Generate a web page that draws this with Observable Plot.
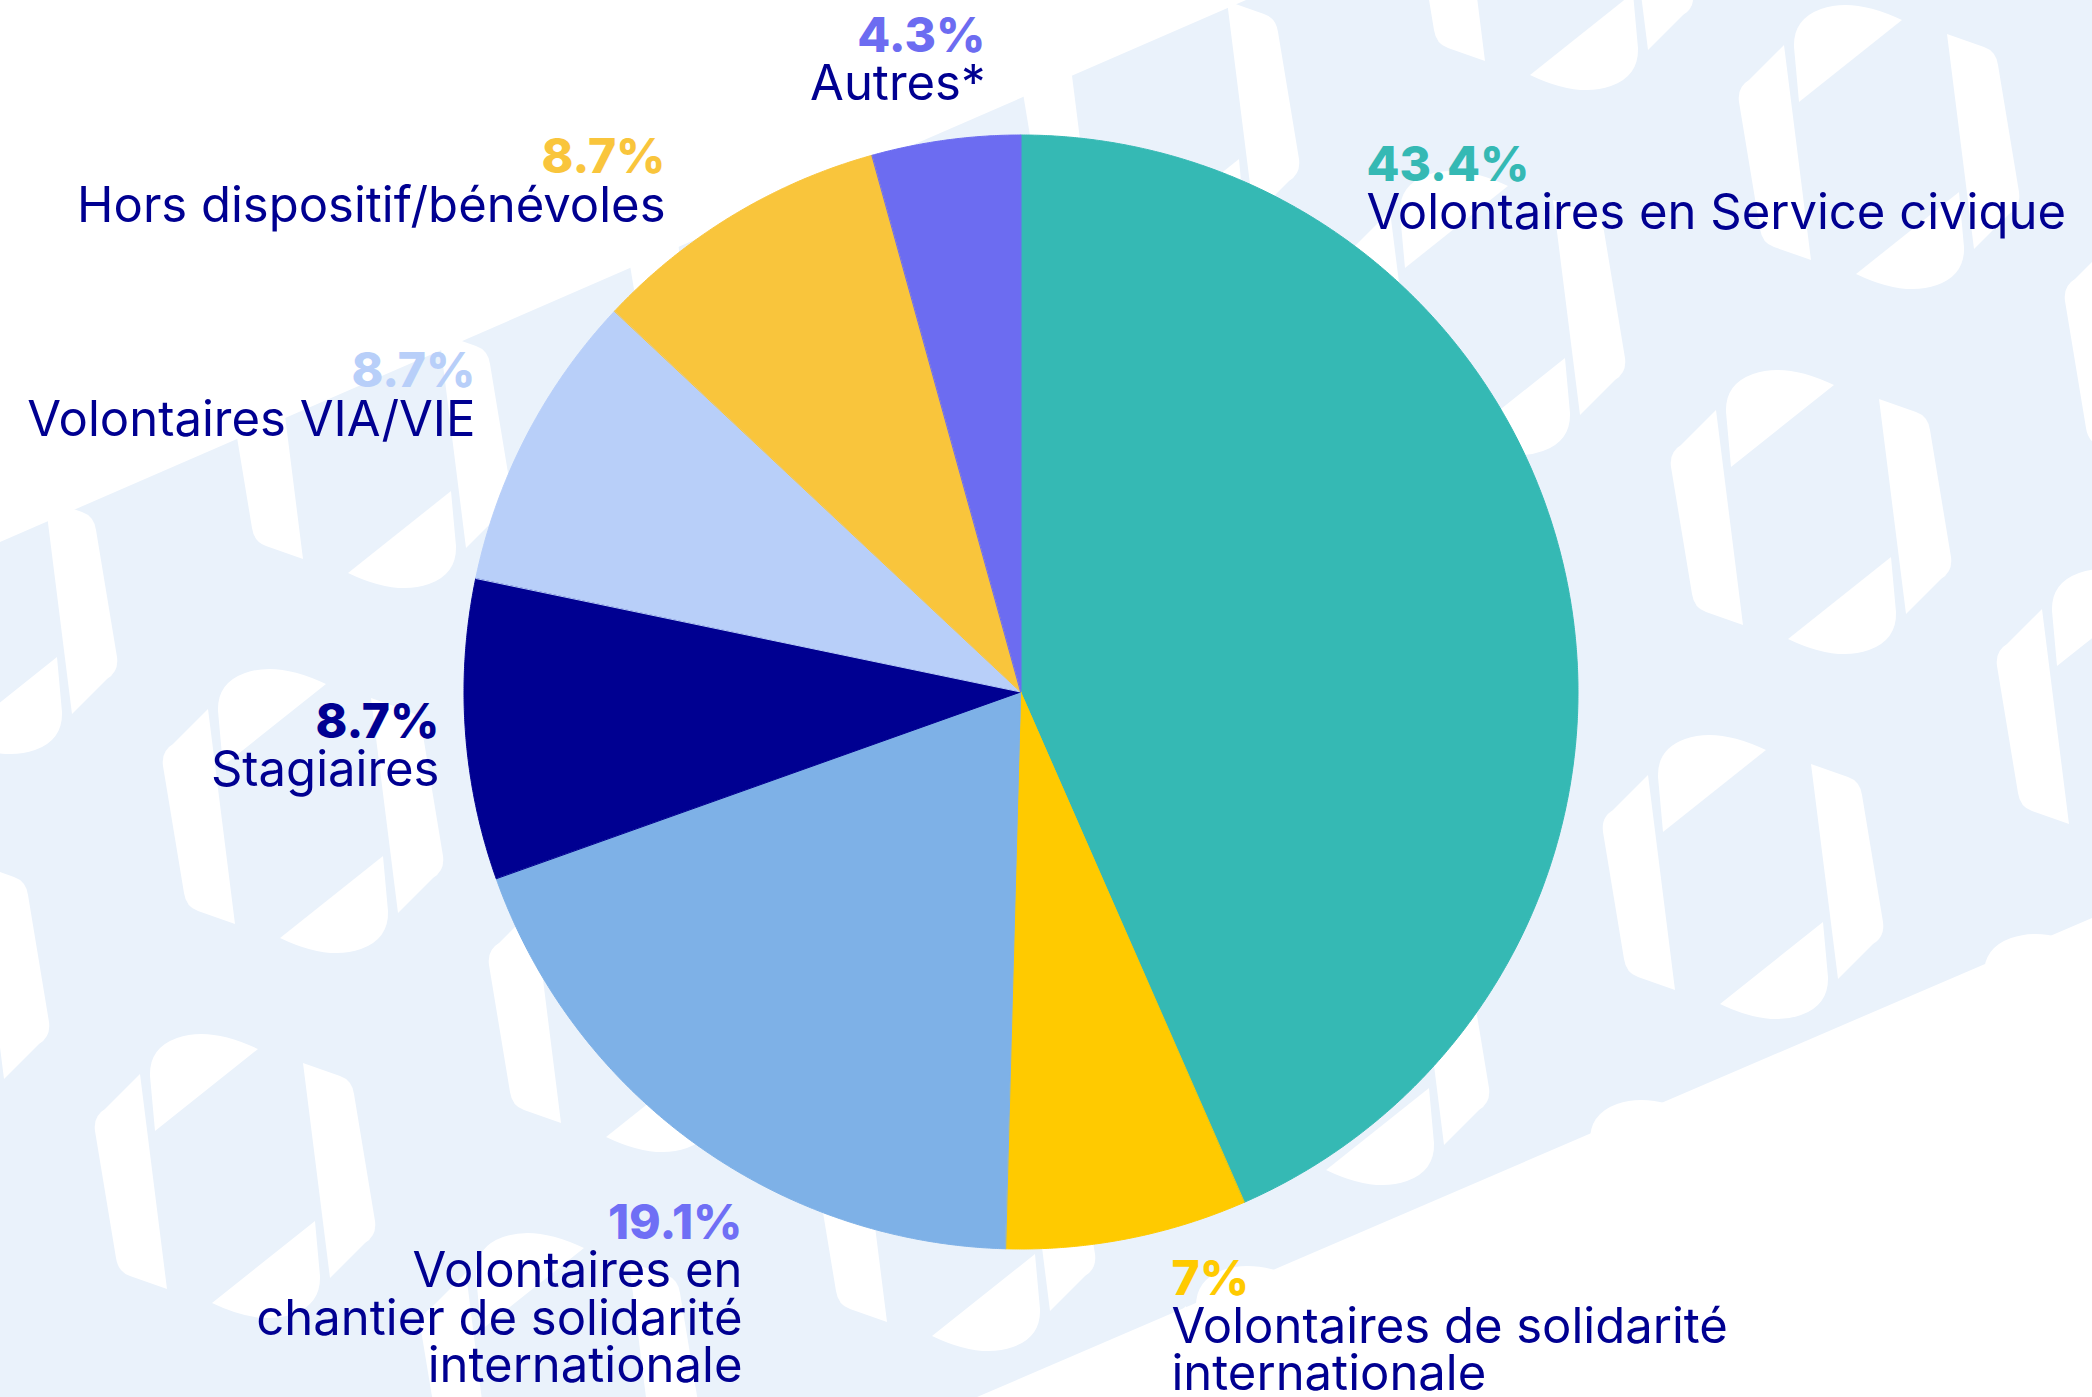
<!DOCTYPE html>
<html>
<head>
<meta charset="utf-8">
<script src="https://cdn.jsdelivr.net/npm/d3@7"></script>
<script src="https://cdn.jsdelivr.net/npm/@observablehq/plot@0.6"></script>
<style>
  html, body { margin: 0; padding: 0; background: #ffffff; }
  #wrap { position: relative; width: 2092px; height: 1397px; overflow: hidden; }
  #bg { position: absolute; left: 0; top: 0; }
  #chart { position: absolute; left: 0; top: 0; }
</style>
</head>
<body>
<div id="wrap">
  <svg id="bg" width="2092" height="1397"></svg>
  <div id="chart"></div>
</div>
<script>
// ---- Data ----
const categories = [
  "Volontaires en Service civique",
  "Volontaires de solidarité internationale",
  "Volontaires en chantier de solidarité internationale",
  "Stagiaires",
  "Volontaires VIA/VIE",
  "Hors dispositif/bénévoles",
  "Autres*"
];
const values = [43.4, 7, 19.1, 8.7, 8.7, 8.7, 4.3];
const percentLabels = ["43.4%", "7%", "19.1%", "8.7%", "8.7%", "8.7%", "4.3%"];
const labelTexts = [
  "Volontaires en Service civique",
  "Volontaires de solidarité\ninternationale",
  "Volontaires en\nchantier de solidarité\ninternationale",
  "Stagiaires",
  "Volontaires VIA/VIE",
  "Hors dispositif/bénévoles",
  "Autres*"
];

// ---- Styles ----
const sliceColors = ["#35b9b4", "#ffca00", "#7eb1e7", "#000091", "#b8cff9", "#f9c53c", "#6c6cf1"];
const percentColors = ["#35b9b4", "#ffca00", "#6f6ff5", "#000091", "#b8cff9", "#f9c53c", "#6c6cf1"];
const textColor = "#000091";
const fontFamily = "Inter, 'Open Sans', sans-serif";

// ---- Layout (label anchors in radius units, relative to pie centre) ----
const labelAnchors = [
  [0.6194, 0.9192],
  [0.2693, -1.0808],
  [-0.5009, -0.9803],
  [-1.0449, -0.0808],
  [-0.9803, 0.5476],
  [-0.6391, 0.9318],
  [-0.0646, 1.1508]
];

// ---- Background decoration ----
(function drawBackground() {
  const bg = d3.select("#bg");
  bg.append("polygon")
    .attr("points", "0,542 1246,0 2092,0 2092,918 977,1397 0,1397")
    .attr("fill", "#eaf2fb");
  const barPath = "M -95,-102 L -68,113 L -105,100 Q -117,96 -119,82 L -140,-45 Q -142,-60 -130,-67 Z";
  const capPath = "M -80,-45 L -85,-100 Q -86,-128 -58,-138 Q -25,-150 23,-127 Z";
  const g = bg.append("g").attr("fill", "#ffffff");
  for (let i = -6; i <= 6; i++) {
    for (let j = -8; j <= 8; j++) {
      const cx = 1811 - 68 * i + 326 * j;
      const cy = 512 + 365 * i + 199 * j;
      if (cx < -200 || cx > 2300 || cy < -200 || cy > 1600) continue;
      const lg = g.append("g").attr("transform", `translate(${cx},${cy})`);
      lg.append("path").attr("d", barPath);
      lg.append("path").attr("d", capPath);
      lg.append("path").attr("d", barPath).attr("transform", "rotate(180)");
      lg.append("path").attr("d", capPath).attr("transform", "rotate(180)");
    }
  }
})();

// ---- Pie geometry ----
const arcs = d3.pie().sort(null).value(d => d)(values);
const slicePoints = arcs.flatMap((a, i) => {
  const n = Math.max(4, Math.ceil((a.endAngle - a.startAngle) / 0.004));
  return d3.range(n + 1).map(k => {
    const t = a.startAngle + (a.endAngle - a.startAngle) * k / n;
    return {category: categories[i], x: Math.sin(t), y: Math.cos(t)};
  });
});

const W = 2092, H = 1397, R = 557, CX = 1021, CY = 692;

const pctSize = 48;
const labelSize = 49;
const lineGap = 47.5;
const lh = lineGap / labelSize;
const labelDy = 48.5 - 0.71 * lh * labelSize;

const textMarks = categories.flatMap((c, i) => {
  const [u, v] = labelAnchors[i];
  const anchor = u > 0 ? "start" : "end";
  return [
    Plot.text([i], {
      x: () => u, y: () => v, text: () => percentLabels[i],
      textAnchor: anchor, lineAnchor: "bottom",
      fill: percentColors[i], fontSize: pctSize, fontWeight: 800, fontFamily
    }),
    Plot.text([i], {
      x: () => u, y: () => v, text: () => labelTexts[i],
      textAnchor: anchor, lineAnchor: "top", lineHeight: lh, dy: labelDy,
      fill: textColor, fontSize: labelSize, fontWeight: 400, fontFamily
    })
  ];
});

const chart = Plot.plot({
  width: W,
  height: H,
  margin: 0,
  style: {background: "transparent", fontFamily},
  x: {domain: [-CX / R, (W - CX) / R], axis: null},
  y: {domain: [-(H - CY) / R, CY / R], axis: null},
  color: {domain: categories, range: sliceColors},
  marks: [
    Plot.area(slicePoints, {
      x1: () => 0, y1: () => 0, x2: "x", y2: "y",
      z: "category", fill: "category", stroke: "category", strokeWidth: 1,
      curve: "linear"
    }),
    ...textMarks
  ]
});
document.getElementById("chart").appendChild(chart);
</script>
</body>
</html>
